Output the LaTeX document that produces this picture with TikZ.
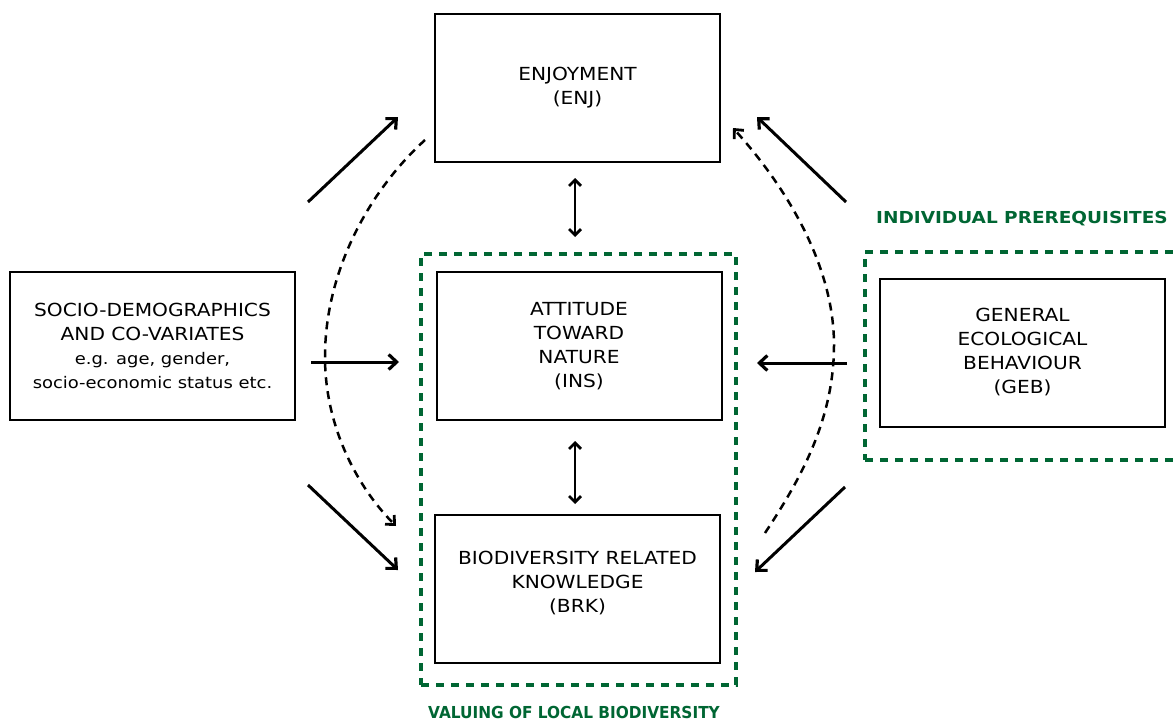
\documentclass[tikz,border=0pt]{standalone}
\usepackage{fontspec}
\setmainfont{DejaVu Sans}[FakeStretch=1.12]
\newfontfamily\narrowbf{DejaVu Sans}[FakeStretch=0.93]
\usetikzlibrary{arrows.meta}
\definecolor{valgreen}{RGB}{0,102,51}
\newcommand{\boxfont}{\fontsize{18}{24}\selectfont}
\newcommand{\notefont}{\fontsize{16}{23.5}\selectfont}

\begin{document}
\begin{tikzpicture}[x=1pt, y=-1pt,
    box/.style={draw, line width=2pt, minimum width=285pt, minimum height=148pt,
      inner sep=0pt, align=center, font=\boxfont},
    grpbox/.style={draw=valgreen, line width=4pt, dash pattern=on 8pt off 7pt,
      inner sep=0pt, outer sep=0pt},
    grplabel/.style={text=valgreen, font=\bfseries\fontsize{16.5}{20}\selectfont},
    arr/.style={-{Straight Barb[length=8pt,width=15pt,line width=3.2pt]}, line width=3pt},
    dasharr/.style={-{Straight Barb[length=7pt,width=13pt,line width=2.8pt]}, line width=2.5pt,
      dash pattern=on 8pt off 6pt},
    dblarr/.style={{Straight Barb[length=6pt,width=12pt,line width=2.8pt]}-{Straight Barb[length=6pt,width=12pt,line width=2.8pt]},
      line width=2.5pt}]
  \clip (0,0) rectangle (1173,720);

  % Riquadri
  \node[box] (enj) at (577.5,88) {ENJOYMENT\\(ENJ)};
  \node[box] (ins) at (579,346) {ATTITUDE\\TOWARD\\NATURE\\(INS)};
  \node[box] (brk) at (577.5,589) {BIODIVERSITY RELATED\\KNOWLEDGE\\(BRK)\\[-10pt]\mbox{}};
  \node[box] (soc) at (152.5,346) {SOCIO-DEMOGRAPHICS\\AND CO-VARIATES\\\notefont e.g. age, gender,\\\notefont socio-economic status etc.};
  \node[box] (geb) at (1022.5,352.5) {GENERAL\\ECOLOGICAL\\BEHAVIOUR\\(GEB)};

  % Gruppi
  \node[grpbox, minimum width=315pt, minimum height=431pt] (val) at (578.5,469.5) {};
  \node[grpbox, minimum width=320pt, minimum height=208pt] (ind) at (1025,356) {};
  \node[grplabel] (indlab) at (1022,219) {INDIVIDUAL PREREQUISITES};
  \node[grplabel, font=\narrowbf\bfseries\fontsize{16.5}{20}\selectfont] (vallab) at (574,712) {VALUING OF LOCAL BIODIVERSITY};

  % Estremi delle frecce
  \coordinate (lt1) at (308,202);  \coordinate (lt2) at (398,117);
  \coordinate (lm1) at (311,362);  \coordinate (lm2) at (399,362);
  \coordinate (lb1) at (308,485);  \coordinate (lb2) at (398,570);
  \coordinate (rt1) at (846,202);  \coordinate (rt2) at (757,117);
  \coordinate (rm1) at (847,363);  \coordinate (rm2) at (757,363);
  \coordinate (rb1) at (845,487);  \coordinate (rb2) at (755,572);
  \coordinate (cl1) at (425,140);  \coordinate (cl2) at (396,526);
  \coordinate (cr1) at (765,533);  \coordinate (cr2) at (733,128);

  % Frecce
  \draw[arr] (lt1) -- (lt2);
  \draw[arr] (lm1) -- (lm2);
  \draw[arr] (lb1) -- (lb2);
  \draw[arr] (rt1) -- (rt2);
  \draw[arr] (rm1) -- (rm2);
  \draw[arr] (rb1) -- (rb2);
  \draw[dasharr] (cl1) .. controls (370,190) and (325,270) .. (325,357)
    .. controls (325,430) and (360,490) .. (cl2);
  \draw[dasharr] (cr1) .. controls (800,480) and (834,420) .. (834,345)
    .. controls (834,260) and (780,180) .. (cr2);
  \draw[dblarr, shorten <=15pt, shorten >=34pt] ([xshift=-2.5pt]enj.south) -- ([xshift=-2.5pt]enj.south |- ins.north);
  \draw[dblarr, shorten <=20pt, shorten >=10pt] ([xshift=-4pt]ins.south) -- ([xshift=-4pt]ins.south |- brk.north);
\end{tikzpicture}
\end{document}
